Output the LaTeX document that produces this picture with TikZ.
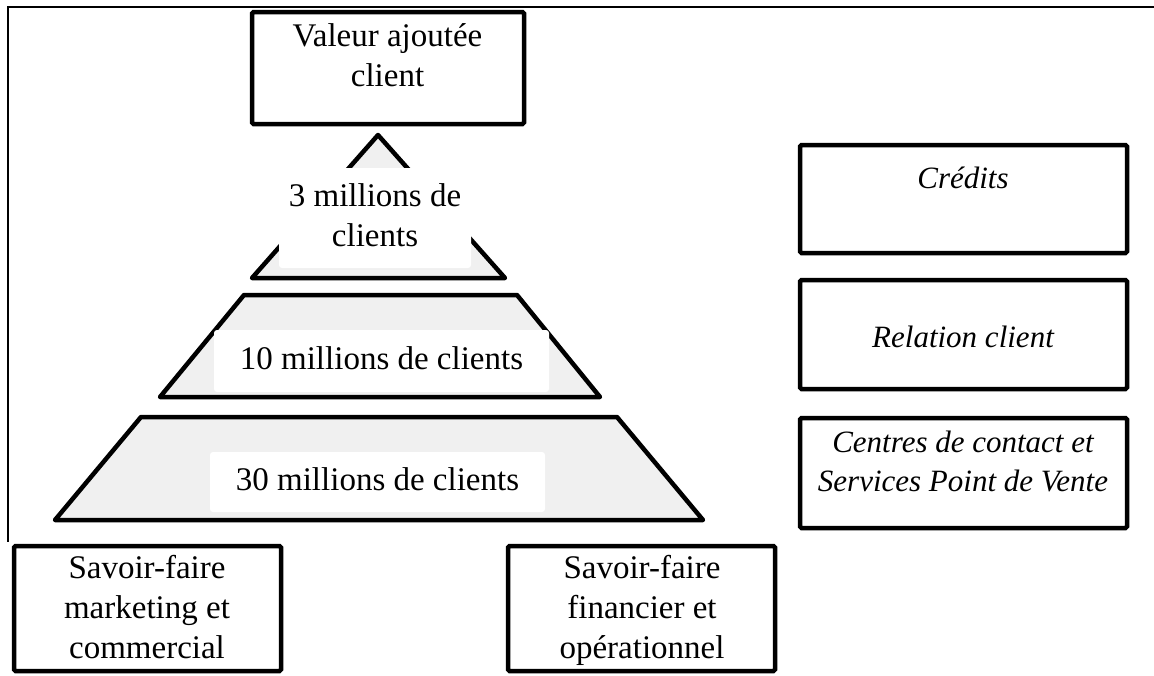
\documentclass[tikz,border=0pt]{standalone}
\usepackage{fontspec}
\setmainfont{Liberation Serif}
\newcommand{\diagfont}{\fontsize{33}{40}\selectfont}
\newcommand{\diagitfont}{\fontsize{31}{39}\selectfont\itshape}
\definecolor{tiergray}{RGB}{240,240,240}
\begin{document}
\begin{tikzpicture}[x=1pt,y=-1pt,
  frameline/.style={line width=2pt},
  blockbox/.style={draw, line width=4.5pt, rounded corners=1.5pt, inner sep=0pt},
  tier/.style={draw, line width=4.5pt, fill=tiergray, line join=round},
  tierlabel/.style={fill=white, rounded corners=3pt, inner sep=0pt, align=center, font=\diagfont},
  txt/.style={inner sep=0pt, align=center, font=\diagfont},
  itxt/.style={inner sep=0pt, align=center, font=\diagitfont}]
\useasboundingbox (0,0) rectangle (1154,675);

% outer frame (top and left sides)
\draw[frameline] (1154,7) -- (8,7) -- (8,542);

% top box
\node[blockbox, minimum width=272pt, minimum height=112pt] (valeur) at (388,68) {};
\node[txt, anchor=north] (valeurtxt) at (387.5,18) {\strut Valeur ajoutée\\\strut client};

% pyramid tiers
\draw[tier] (378,135) -- (505,278) -- (252,278) -- cycle;
\draw[tier] (244,295) -- (517,295) -- (600,397) -- (160,397) -- cycle;
\draw[tier] (141,417) -- (617,417) -- (703,520) -- (55,520) -- cycle;

% tier labels
\node[tierlabel, minimum width=192pt, minimum height=100pt] (tier3) at (375,218) {\strut 3 millions de\\\strut clients};
\node[tierlabel, minimum width=335pt, minimum height=62pt] (tier10) at (381.5,361) {\strut 10 millions de clients};
\node[tierlabel, minimum width=335pt, minimum height=60pt] (tier30) at (377.5,482) {\strut 30 millions de clients};

% right column
\node[blockbox, minimum width=327pt, minimum height=108pt] (credits) at (963.5,199) {};
\node[itxt, anchor=north] (creditstxt) at (963,161) {\strut Crédits};
\node[blockbox, minimum width=327pt, minimum height=109pt] (relation) at (963.5,334.5) {};
\node[itxt, anchor=north] (relationtxt) at (963,320) {\strut Relation client};
\node[blockbox, minimum width=327pt, minimum height=110pt] (centres) at (963.5,473) {};
\node[itxt, anchor=north] (centrestxt) at (963,425) {\strut Centres de contact et\\\strut Services Point de Vente};

% bottom boxes
\node[blockbox, minimum width=267pt, minimum height=125pt] (marketing) at (147.5,608.5) {};
\node[txt, anchor=north] (marketingtxt) at (147,550) {\strut Savoir-faire\\\strut marketing et\\\strut commercial};
\node[blockbox, minimum width=267pt, minimum height=125pt] (financier) at (641.5,608.5) {};
\node[txt, anchor=north] (financiertxt) at (642,550) {\strut Savoir-faire\\\strut financier et\\\strut opérationnel};
\end{tikzpicture}
\end{document}
